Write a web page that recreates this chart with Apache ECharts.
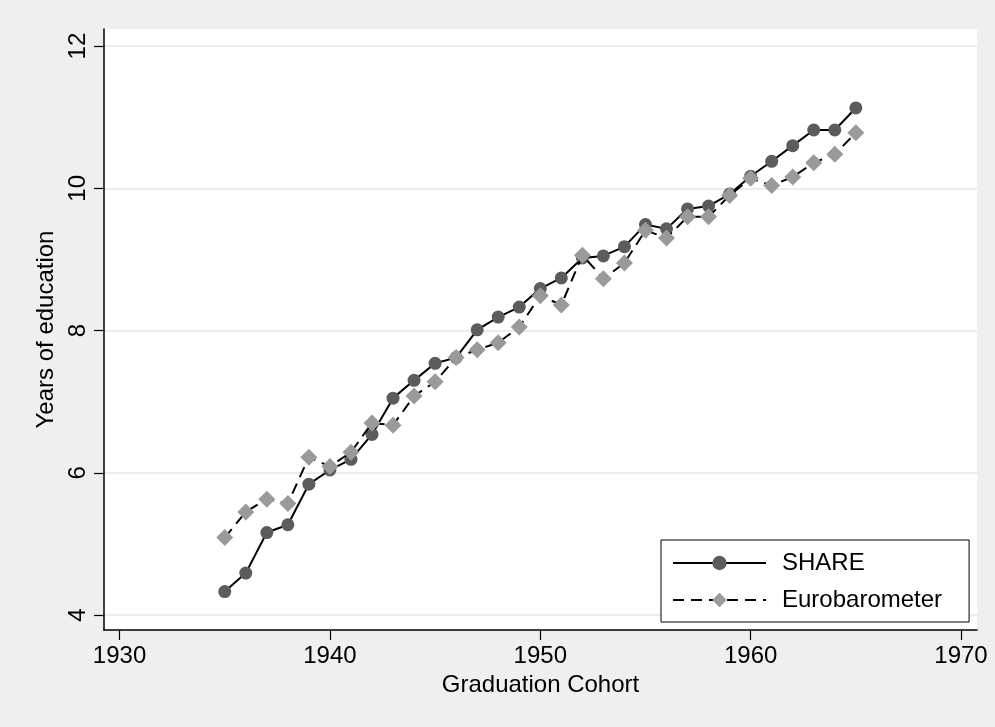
<!DOCTYPE html>
<html>
<head>
<meta charset="utf-8">
<script src="https://cdn.jsdelivr.net/npm/echarts@6/dist/echarts.min.js"></script>
<style>
html,body{margin:0;padding:0;background:#efefef;}
#chart{width:995px;height:727px;}
</style>
</head>
<body>
<div id="chart"></div>
<script>
const years = [1935,1936,1937,1938,1939,1940,1941,1942,1943,1944,1945,1946,1947,1948,1949,1950,1951,1952,1953,1954,1955,1956,1957,1958,1959,1960,1961,1962,1963,1964,1965];
const shareValues = [4.33,4.59,5.16,5.27,5.84,6.04,6.19,6.54,7.05,7.30,7.54,7.62,8.01,8.19,8.33,8.59,8.74,9.02,9.05,9.18,9.49,9.43,9.71,9.75,9.92,10.17,10.38,10.60,10.82,10.82,11.13];
const euroValues = [5.09,5.45,5.63,5.57,6.22,6.09,6.29,6.70,6.67,7.08,7.28,7.62,7.73,7.83,8.05,8.49,8.36,9.06,8.73,8.95,9.41,9.30,9.60,9.60,9.90,10.14,10.04,10.16,10.36,10.48,10.78];
const xTicks = [1930,1940,1950,1960,1970];
const yTicks = [4,6,8,10,12];
const seriesNames = ['SHARE','Eurobarometer'];
const xTitle = 'Graduation Cohort';
const yTitle = 'Years of education';

const FONT = "'Liberation Sans', Arial, sans-serif";
const chart = echarts.init(document.getElementById('chart'), null, {renderer:'canvas'});
const pair = (xs, ys) => xs.map((x,i)=>[x, ys[i]]);

chart.setOption({
  backgroundColor:'#efefef',
  animation:false,
  textStyle:{fontFamily:FONT,color:'#000'},
  grid:{left:104,right:18,top:29,bottom:97,show:true,backgroundColor:'#ffffff',borderWidth:0,containLabel:false},
  legend:{
    orient:'vertical',
    left:661, top:540,
    padding:[11,27,10,11],
    backgroundColor:'#ffffff',
    borderColor:'#000',
    borderWidth:1,
    itemWidth:93,
    itemHeight:18,
    itemGap:13,
    textStyle:{fontFamily:FONT,fontSize:24,color:'#000',lineHeight:24,padding:[0,0,0,11]},
    data:seriesNames
  },
  xAxis:{
    type:'value',
    min:1929.26, max:1970.76,
    name:xTitle, nameLocation:'middle', nameGap:38,
    nameTextStyle:{fontFamily:FONT,fontSize:24,color:'#000'},
    axisLine:{show:true,onZero:false,lineStyle:{color:'#000',width:1.5}},
    axisTick:{show:true,length:10,lineStyle:{color:'#000',width:1.2},customValues:xTicks},
    axisLabel:{show:true,margin:14,fontFamily:FONT,fontSize:24,color:'#000',customValues:xTicks,formatter:v=>String(v)},
    splitLine:{show:false}
  },
  yAxis:{
    type:'value',
    min:3.79, max:12.24,
    name:yTitle, nameLocation:'middle', nameGap:46, nameRotate:90,
    nameTextStyle:{fontFamily:FONT,fontSize:24,color:'#000'},
    axisLine:{show:true,onZero:false,lineStyle:{color:'#000',width:1.5}},
    axisTick:{show:true,length:10,lineStyle:{color:'#000',width:1.2},customValues:yTicks},
    axisLabel:{show:true,rotate:90,margin:14,fontFamily:FONT,fontSize:24,color:'#000',customValues:yTicks,formatter:v=>String(v)},
    splitLine:{show:true,lineStyle:{color:'#e6e6e6',width:1.5}}
  },
  series:[
    {
      name:seriesNames[0], type:'line', data:pair(years, shareValues),
      symbol:'circle', symbolSize:13, showAllSymbol:true,
      lineStyle:{color:'#000',width:2,type:'solid'},
      itemStyle:{color:'#5c5c5c',borderWidth:0},
      z:3
    },
    {
      name:seriesNames[1], type:'line', data:pair(years, euroValues),
      symbol:'diamond', symbolSize:17, showAllSymbol:true,
      lineStyle:{color:'#000',width:2,type:[11,7]},
      itemStyle:{color:'#9a9a9a',borderWidth:0},
      z:4
    }
  ]
});
</script>
</body>
</html>
